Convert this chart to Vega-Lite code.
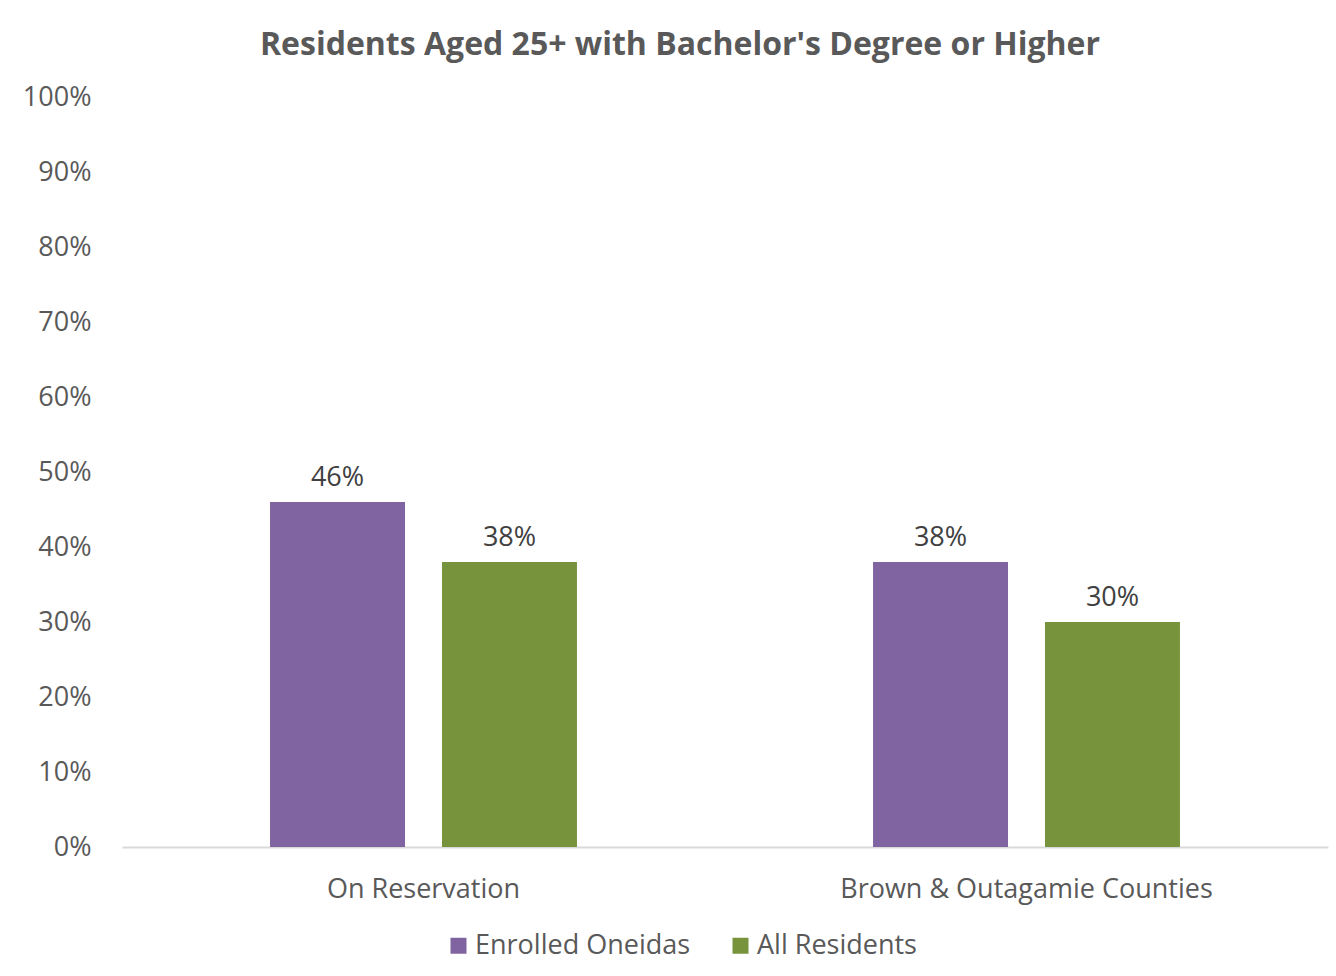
{
  "$schema": "https://vega.github.io/schema/vega-lite/v6.json",
  "width": 1206,
  "height": 750,
  "autosize": {"type": "none"},
  "padding": {"left": 122, "top": 97, "right": 8, "bottom": 129},
  "background": "white",
  "title": {
    "text": "Residents Aged 25+ with Bachelor's Degree or Higher",
    "anchor": "middle",
    "dx": -45,
    "offset": 21,
    "font": "Open Sans",
    "fontSize": 32,
    "fontWeight": "bold",
    "color": "#595959"
  },
  "data": {
    "values": [
      {"area": "On Reservation", "group": "Enrolled Oneidas", "value": 0.46},
      {"area": "On Reservation", "group": "All Residents", "value": 0.38},
      {"area": "Brown & Outagamie Counties", "group": "Enrolled Oneidas", "value": 0.38},
      {"area": "Brown & Outagamie Counties", "group": "All Residents", "value": 0.30}
    ]
  },
  "encoding": {
    "x": {
      "field": "area",
      "type": "nominal",
      "sort": ["On Reservation", "Brown & Outagamie Counties"],
      "scale": {"paddingInner": 0.491, "paddingOuter": 0.2455},
      "axis": {
        "title": null,
        "labelAngle": 0,
        "ticks": false,
        "domainColor": "#d9d9d9",
        "domainWidth": 2,
        "labelFont": "Open Sans",
        "labelFontSize": 27,
        "labelColor": "#595959",
        "labelPadding": 29,
        "labelLimit": 600
      }
    },
    "xOffset": {
      "field": "group",
      "type": "nominal",
      "sort": ["Enrolled Oneidas", "All Residents"],
      "scale": {"paddingInner": 0.215, "paddingOuter": 0}
    },
    "y": {
      "field": "value",
      "type": "quantitative",
      "scale": {"domain": [0, 1]},
      "axis": {
        "title": null,
        "format": ".0%",
        "values": [0, 0.1, 0.2, 0.3, 0.4, 0.5, 0.6, 0.7, 0.8, 0.9, 1],
        "labelOverlap": false,
        "grid": false,
        "domain": false,
        "ticks": false,
        "labelFont": "Open Sans",
        "labelFontSize": 27,
        "labelColor": "#595959",
        "labelPadding": 31
      }
    }
  },
  "layer": [
    {
      "mark": {"type": "bar"},
      "encoding": {
        "color": {
          "field": "group",
          "type": "nominal",
          "sort": ["Enrolled Oneidas", "All Residents"],
          "scale": {"domain": ["Enrolled Oneidas", "All Residents"], "range": ["#8064A2", "#77933C"]},
          "legend": {
            "title": null,
            "orient": "none",
            "direction": "horizontal",
            "legendX": 323,
            "legendY": 835,
            "symbolType": "square",
            "symbolSize": 256,
            "symbolStrokeWidth": 0,
            "labelFont": "Open Sans",
            "labelFontSize": 27,
            "labelColor": "#595959",
            "labelLimit": 400,
            "labelOffset": 3,
            "columnPadding": 36
          }
        }
      }
    },
    {
      "mark": {
        "type": "text",
        "baseline": "bottom",
        "dy": -10,
        "font": "Open Sans",
        "fontSize": 27,
        "color": "#404040"
      },
      "encoding": {
        "text": {"field": "value", "type": "quantitative", "format": ".0%"}
      }
    }
  ],
  "config": {
    "view": {"stroke": null}
  }
}
